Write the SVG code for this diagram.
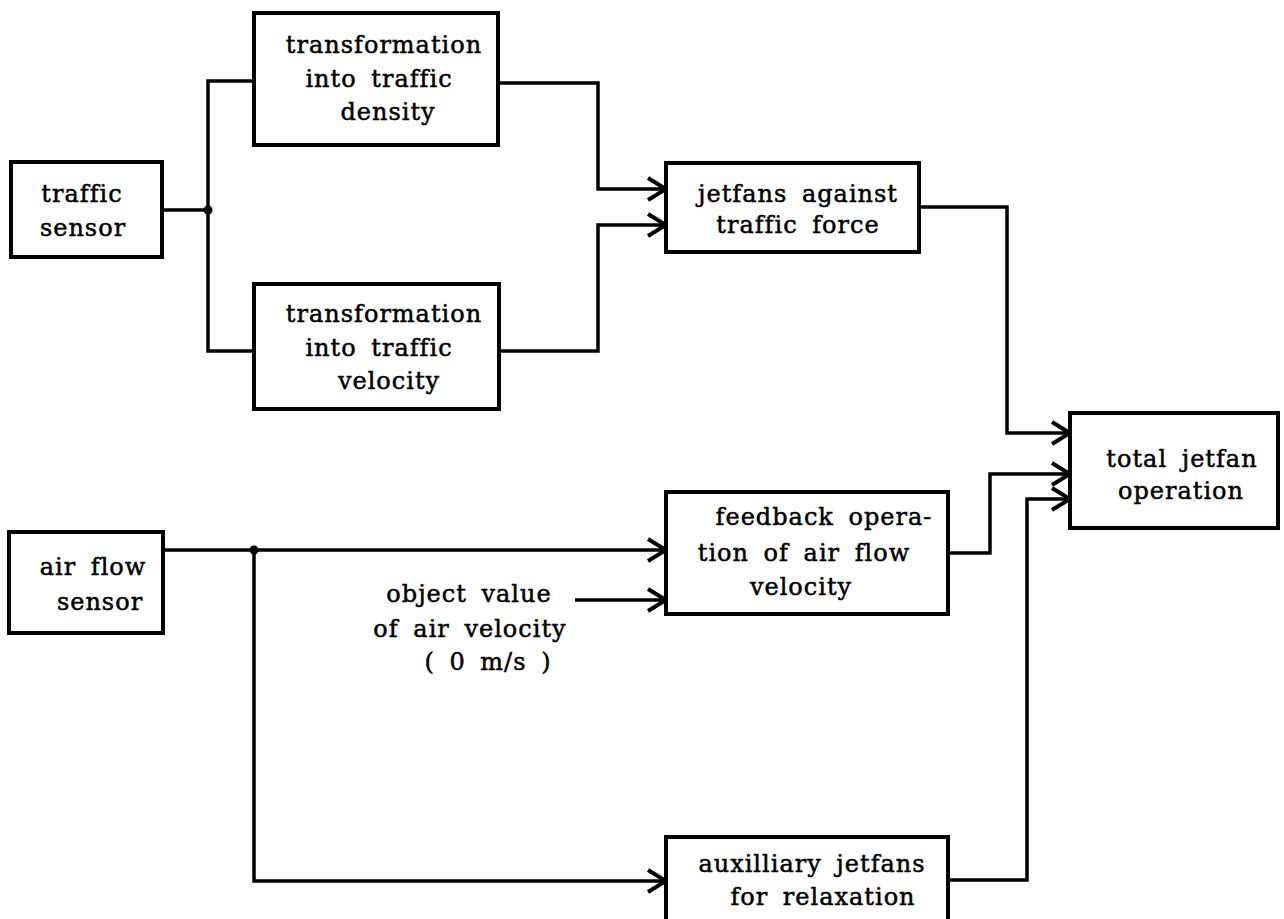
<svg xmlns="http://www.w3.org/2000/svg" width="1284" height="919" viewBox="0 0 1284 919">
<style>
.box{fill:none;stroke:#000;stroke-width:4}
.ln{fill:none;stroke:#000;stroke-width:3.5}
.t{font-family:"DejaVu Serif","Liberation Serif",serif;font-size:24px;letter-spacing:1px;word-spacing:6px;fill:#000;stroke:#000;stroke-width:0.5;text-anchor:middle}
</style>
<defs>
<marker id="arr" markerUnits="userSpaceOnUse" viewBox="-22 -14 24 28" markerWidth="24" markerHeight="28" refX="0" refY="0" orient="auto">
<path d="M-18,-11 L0,0 L-18,11" fill="none" stroke="#000" stroke-width="4"/>
</marker>
</defs>
<rect width="1284" height="919" fill="#fff"/>
<g id="connectors">
<path class="ln" d="M162,210 H208"/>
<path class="ln" d="M254,81 H208 V351 H254"/>
<circle cx="208" cy="210" r="4.5" fill="#000"/>
<path class="ln" d="M498,83 H598 V189 H666" marker-end="url(#arr)"/>
<path class="ln" d="M499,351 H598 V225 H666" marker-end="url(#arr)"/>
<path class="ln" d="M919,207 H1007 V433 H1070" marker-end="url(#arr)"/>
<path class="ln" d="M948,553 H990 V474 H1070" marker-end="url(#arr)"/>
<path class="ln" d="M948,880 H1027 V499 H1070" marker-end="url(#arr)"/>
<path class="ln" d="M163,550 H666" marker-end="url(#arr)"/>
<circle cx="254" cy="550" r="4.5" fill="#000"/>
<path class="ln" d="M254,550 V881 H666" marker-end="url(#arr)"/>
<path class="ln" d="M575,600 H666" marker-end="url(#arr)"/>
</g>
<g id="traffic-sensor">
<rect class="box" x="11" y="162" width="151" height="95"/>
<text class="t" x="82" y="202">traffic</text>
<text class="t" x="83" y="236">sensor</text>
</g>
<g id="density">
<rect class="box" x="254" y="13" width="244" height="132"/>
<text class="t" x="384" y="53">transformation</text>
<text class="t" x="379" y="87">into traffic</text>
<text class="t" x="388" y="120">density</text>
</g>
<g id="velocity">
<rect class="box" x="254" y="284" width="245" height="125"/>
<text class="t" x="384" y="322">transformation</text>
<text class="t" x="379" y="356">into traffic</text>
<text class="t" x="389" y="389">velocity</text>
</g>
<g id="jetfans-force">
<rect class="box" x="666" y="163" width="253" height="89"/>
<text class="t" x="798" y="202">jetfans against</text>
<text class="t" x="798" y="233">traffic force</text>
</g>
<g id="total">
<rect class="box" x="1070" y="413" width="208" height="115"/>
<text class="t" x="1182" y="467">total jetfan</text>
<text class="t" x="1181" y="499">operation</text>
</g>
<g id="air-flow-sensor">
<rect class="box" x="9" y="532" width="154" height="101"/>
<text class="t" x="93" y="575">air flow</text>
<text class="t" x="100" y="610">sensor</text>
</g>
<g id="feedback">
<rect class="box" x="666" y="492" width="282" height="122"/>
<text class="t" x="824" y="525">feedback opera-</text>
<text class="t" x="804" y="561">tion of air flow</text>
<text class="t" x="801" y="595">velocity</text>
</g>
<g id="object-value">
<text class="t" x="469" y="602">object value</text>
<text class="t" x="470" y="637">of air velocity</text>
<text class="t" x="488" y="670">( 0 m/s )</text>
</g>
<g id="auxiliary">
<path class="box" d="M666,925 V837 H948 V925"/>
<text class="t" x="812" y="872">auxilliary jetfans</text>
<text class="t" x="823" y="905">for relaxation</text>
</g>
</svg>
